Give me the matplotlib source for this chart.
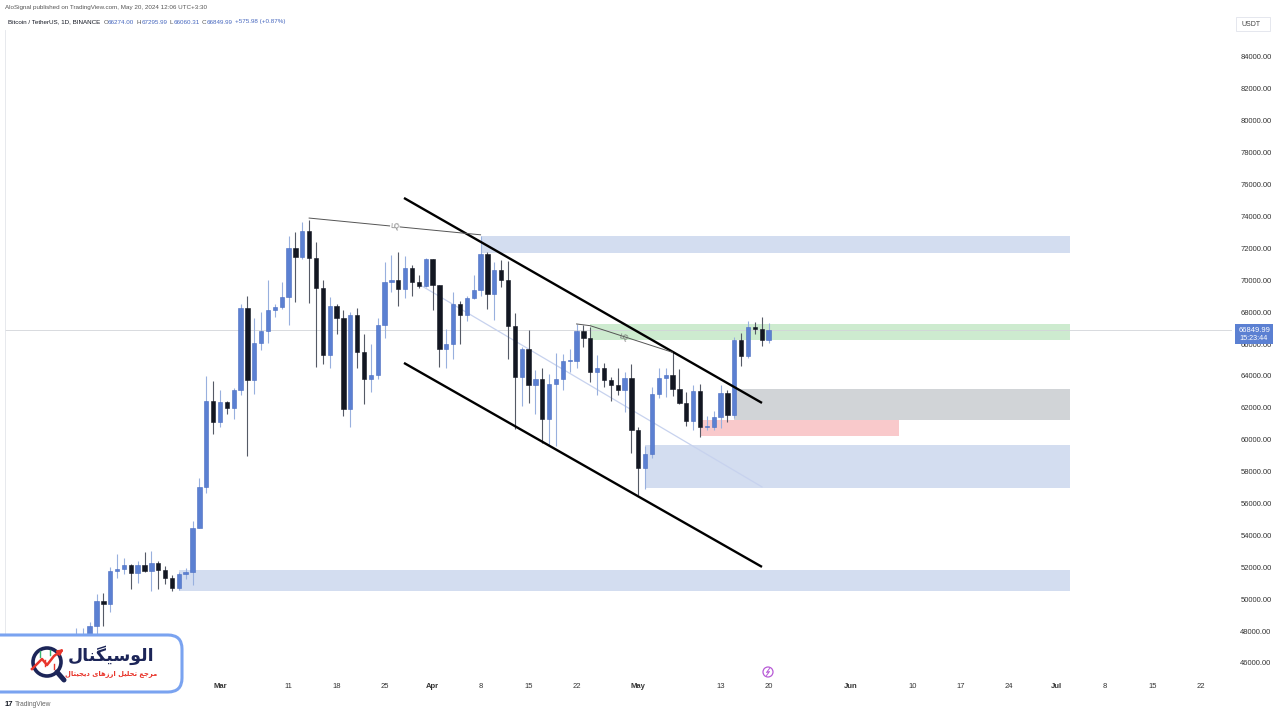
import matplotlib
matplotlib.use('Agg')
import matplotlib.pyplot as plt
import numpy as np
import pandas as pd
from matplotlib.patches import FancyBboxPatch, Circle, Rectangle

# ---------------- data (BTC/USDT daily) ----------------
dates = pd.date_range('2024-02-01', '2024-05-20', freq='D')
opens = [42580, 43082, 43200, 42994, 42583, 42658, 43084, 44339, 45293, 47132,
         47751, 48299, 49917, 49699, 51795, 51880, 52124, 51642, 52137, 51774,
         52258, 51849, 51320, 50731, 51571, 51733, 54476, 57037, 62432,
         61130, 62387, 61987, 63113, 68245, 63724, 66074, 66823, 68124, 68313,
         68955, 72000, 71470, 73072, 71388, 69499, 65300, 68393, 67609, 61937,
         67840, 65501, 63796, 64037, 67211, 69880, 69987, 69455, 70744, 69892, 69645,
         71333, 69702, 65709, 66000, 68500, 67838, 68896, 69360, 71620, 69146,
         70631, 70006, 67116, 63924, 65661, 63419, 63793, 61277, 63470, 63818,
         64940, 64941, 66837, 66407, 64276, 64481, 63755, 63419, 63113, 63841,
         60636, 58254, 59123, 62889, 63891, 64031, 63161, 62334, 61187, 63049,
         60792, 60793, 61448, 62901, 61553, 66256, 65231, 67051, 66940, 66274]
highs = [43290, 43495, 43380, 43120, 43535, 43399, 44389, 45600, 48200, 48170,
         48592, 50334, 50368, 52043, 52820, 52575, 52200, 52400, 52985, 53000,
         52380, 52065, 51548, 51684, 51950, 54910, 57588, 64000, 63676,
         63114, 62434, 63230, 68499, 69000, 67637, 67986, 69985, 68542, 69900,
         72800, 73000, 73650, 73777, 72400, 70037, 68920, 68500, 68106, 68030,
         68240, 66650, 65999, 67622, 71150, 71561, 71769, 71552, 70987, 70324, 71366,
         71342, 69710, 66914, 69292, 68725, 69020, 70326, 72797, 71758, 71172,
         71256, 71227, 67931, 65840, 66867, 64365, 64475, 64125, 65450, 65389,
         65700, 67233, 67208, 67075, 65297, 64797, 63923, 64499, 64228, 64734,
         60780, 59602, 63320, 64494, 64500, 65494, 64422, 62985, 63419, 63469,
         61490, 61818, 63450, 63118, 66447, 66697, 67451, 67400, 67700, 67296]
lows = [41884, 42541, 42880, 42222, 42259, 42574, 42788, 44331, 45242, 46800,
        47557, 47710, 48300, 49225, 51315, 51559, 50625, 51000, 51682, 50521,
        50625, 50936, 50500, 50590, 51280, 50901, 54450, 56690, 60364,
        60777, 61600, 61321, 62787, 59005, 62848, 65657, 66084, 67700, 68186,
        67194, 68620, 71330, 68555, 64555, 64770, 64525, 66600, 61500, 60775,
        64529, 62261, 63000, 63825, 66385, 69280, 68359, 68903, 69000, 69528, 69562,
        68110, 64550, 64493, 65064, 66011, 67447, 68824, 69040, 68210, 67518,
        69571, 65086, 60660, 62134, 62274, 61600, 59768, 59600, 59600, 63090,
        64237, 64500, 65800, 63589, 62794, 63300, 62424, 62793, 61765, 59191,
        56552, 56937, 58848, 62599, 62700, 62746, 62261, 60888, 60632, 60187,
        60610, 60632, 60749, 61142, 61356, 64613, 65106, 66600, 65857, 66060]
closes = opens[1:] + [66849.99]

# zones
zone_starts = ['2024-04-08', '2024-04-24', '2024-05-15', '2024-05-10', '2024-05-02', '2024-02-24']
zone_ends = ['2024-07-03', '2024-07-03', '2024-07-03', '2024-06-08', '2024-07-03', '2024-07-03']
zone_lows = [71712, 66257, 61240, 60238, 56978, 50517]
zone_highs = [72777, 67260, 63170, 61241, 59674, 51834]
zone_colors = ['#d3ddf0', '#cdebcf', '#d1d4d7', '#f9c9cb', '#d3ddf0', '#d3ddf0']

# trend / channel lines
chan_up_t = ['2024-03-27 20:00', '2024-05-19 01:00']
chan_up_p = [75160, 62307]
chan_lo_t = ['2024-03-27 20:00', '2024-05-19 01:00']
chan_lo_p = [64815, 52025]
lq1_t = ['2024-03-14', '2024-04-08']
lq1_p = [73900, 72850]
lq2_t = ['2024-04-22', '2024-04-24', '2024-05-06']
lq2_p = [67260, 67150, 65480]
faint_t = ['2024-03-30 05:00', '2024-05-19 01:00']
faint_p = [69700, 57041]
last_price = 66849.99

xtick_dates = ['2024-03-01', '2024-03-11', '2024-03-18', '2024-03-25', '2024-04-01', '2024-04-08',
               '2024-04-15', '2024-04-22', '2024-05-01', '2024-05-13', '2024-05-20', '2024-06-01',
               '2024-06-10', '2024-06-17', '2024-06-24', '2024-07-01', '2024-07-08', '2024-07-15',
               '2024-07-22']
xtick_labels = ['Mar', '11', '18', '25', 'Apr', '8', '15', '22', 'May', '13', '20', 'Jun',
                '10', '17', '24', 'Jul', '8', '15', '22']
ytick_values = list(range(46000, 84001, 2000))

BASE = pd.Timestamp('2024-03-01')


def day(s):
    return (pd.Timestamp(s) - BASE) / pd.Timedelta(days=1)


LAT = 'Liberation Sans'

fig = plt.figure(figsize=(12.8, 7.2), dpi=100)
fig.patch.set_facecolor('white')
ax = fig.add_axes([5 / 1280, 40 / 720, 1227 / 1280, 650 / 720])
ax.set_facecolor('white')

x = np.array([day(d) for d in dates])
o = np.array(opens, float)
h = np.array(highs, float)
l = np.array(lows, float)
c = np.array(closes, float)
up = c >= o

UP_BODY = '#5b80d2'
UP_EDGE = '#4a6cc0'
UP_WICK = '#98b0de'
DN_BODY = '#131722'
DN_WICK = '#555a66'

# zones
for s, e, lo_, hi_, col in zip(zone_starts, zone_ends, zone_lows, zone_highs, zone_colors):
    ax.fill_between([day(s), day(e)], lo_, hi_, color=col, lw=0, zorder=1)

# price line
ax.axhline(last_price, color='#d2d4d9', lw=0.6, zorder=1.5)

# faint line
ax.plot([day(t) for t in faint_t], faint_p, color='#c7d2ee', lw=0.9, zorder=2)

# candles
ax.vlines(x[up], l[up], h[up], color=UP_WICK, lw=0.8, zorder=3)
ax.vlines(x[~up], l[~up], h[~up], color=DN_WICK, lw=0.8, zorder=3)
body_lo = np.minimum(o, c)
body_h = np.maximum(np.abs(c - o), 45)
ax.bar(x[up], body_h[up], bottom=body_lo[up], width=0.64, color=UP_BODY,
       edgecolor=UP_EDGE, linewidth=0.4, zorder=4)
ax.bar(x[~up], body_h[~up], bottom=body_lo[~up], width=0.64, color=DN_BODY,
       edgecolor=DN_BODY, linewidth=0.4, zorder=4)

# channel lines
ax.plot([day(t) for t in chan_up_t], chan_up_p, color='black', lw=1.7, zorder=5,
        solid_capstyle='butt')
ax.plot([day(t) for t in chan_lo_t], chan_lo_p, color='black', lw=1.7, zorder=5,
        solid_capstyle='butt')

# LQ lines
ax.plot([day(t) for t in lq1_t], lq1_p, color='#555555', lw=0.7, zorder=5)
ax.plot([day(t) for t in lq2_t], lq2_p, color='#555555', lw=0.7, zorder=5)
ax.text(25.5, 73330, 'LQ', fontsize=4.8, color='#666666', family=LAT, ha='center', va='center',
        rotation=-4, zorder=6, bbox=dict(facecolor='white', edgecolor='none', pad=0.3))
ax.text(58.9, 66400, 'LQ', fontsize=4.8, color='#666666', family=LAT, ha='center', va='center',
        rotation=-15, zorder=6)

# axes limits / ticks
ax.set_xlim(-31.35, 147.58)
ax.set_ylim(44933, 85693)
ax.set_xticks([day(d) for d in xtick_dates])
ax.set_xticklabels(xtick_labels)
for lbl in ax.get_xticklabels():
    lbl.set_family(LAT)
    lbl.set_fontsize(5.5)
    lbl.set_color('#333333')
    if lbl.get_text() in ('Mar', 'Apr', 'May', 'Jun', 'Jul'):
        lbl.set_fontweight('bold')
ax.tick_params(axis='x', length=0, pad=2.5)
ax.yaxis.tick_right()
ax.set_yticks(ytick_values)
ax.set_yticklabels([f'{v:.2f}' for v in ytick_values])
for lbl in ax.get_yticklabels():
    lbl.set_family(LAT)
    lbl.set_fontsize(5.5)
    lbl.set_color('#333333')
ax.tick_params(axis='y', length=0, pad=6)
for sp in ['top', 'right', 'bottom']:
    ax.spines[sp].set_visible(False)
ax.spines['left'].set_color('#e3e5ea')
ax.spines['left'].set_linewidth(0.6)

# ---------------- overlay (pixel coordinates) ----------------
ov = fig.add_axes([0, 0, 1, 1], zorder=10)
ov.set_xlim(0, 1280)
ov.set_ylim(720, 0)
ov.axis('off')
ov.patch.set_alpha(0)

renderer = fig.canvas.get_renderer()

ov.text(5, 8, 'AloSignal published on TradingView.com, May 20, 2024 12:06 UTC+3:30',
        fontsize=4.5, color='#555555', family=LAT, va='center', ha='left')

BLUE_T = '#4566be'
pieces = [('Bitcoin / TetherUS, 1D, BINANCE', '#131722', 0), ('O', '#555555', 3),
          ('66274.00', BLUE_T, 0), ('H', '#555555', 2.5), ('67295.99', BLUE_T, 0),
          ('L', '#555555', 2.5), ('66060.31', BLUE_T, 0), ('C', '#555555', 2.5),
          ('66849.99', BLUE_T, 0), ('+575.98 (+0.87%)', BLUE_T, 2.5)]
xp = 8
for txt, col, gap in pieces:
    xp += gap
    t = ov.text(xp, 22, txt, fontsize=4.5, color=col, family=LAT, va='center', ha='left')
    bb = t.get_window_extent(renderer=renderer)
    xp += bb.width

# USDT box
ov.add_patch(Rectangle((1236, 17), 34, 14, facecolor='white', edgecolor='#e0e3eb', lw=0.6))
ov.text(1241, 24, 'USDT', fontsize=5, color='#444444', family=LAT, va='center', ha='left')

# last price label
ov.add_patch(Rectangle((1235, 324), 38, 20, facecolor='#5b80d2', edgecolor='none'))
ov.text(1239, 330, '66849.99', fontsize=5.4, color='white', family=LAT, va='center', ha='left')
ov.text(1239, 339, '15:23:44', fontsize=5.2, color='white', family=LAT, va='center', ha='left')

# purple icon near x axis
ov.add_patch(Circle((768, 672), 5, facecolor='white', edgecolor='#b75ad6', lw=0.9))
ov.plot([769.5, 766.5, 769.5, 766.5], [668.5, 672.5, 671.5, 675.5], color='#b75ad6', lw=0.7)

# TradingView logo
ov.text(5, 704, '17', fontsize=5.5, color='#131722', family=LAT, fontweight='bold',
        va='center', ha='left')
ov.text(15, 704, 'TradingView', fontsize=4.8, color='#666666', family=LAT, va='center', ha='left')

# brand logo box
ov.add_patch(FancyBboxPatch((-30, 635), 212, 57, boxstyle='round,pad=0,rounding_size=14',
                            facecolor='white', edgecolor='#7aa3f0', lw=2.2, zorder=20))
ov.add_patch(Circle((47, 662), 14, facecolor='white', edgecolor='#1c2558', lw=2.6, zorder=21))
ov.plot([57, 64], [672, 680], color='#1c2558', lw=3.6, solid_capstyle='round', zorder=21)
for xx, y0, y1, col in [(40, 651, 657, '#3cb371'), (45, 660, 666, '#e8352b'),
                        (50, 650, 655, '#3cb371'), (54, 664, 669, '#e8352b')]:
    ov.plot([xx, xx], [y0, y1], color=col, lw=1.0, zorder=21)
ov.plot([32, 42, 47, 54, 61], [669, 659, 665, 656, 651], color='#e8352b', lw=1.8,
        solid_joinstyle='round', zorder=22)
ov.annotate('', xy=(66, 647.5), xytext=(59, 652.5),
            arrowprops=dict(arrowstyle='-|>', color='#e8352b', lw=1.5, mutation_scale=8),
            zorder=22)

title_fa = ''.join(chr(cc) for cc in [0xFEDD, 0xFE8E, 0xFEE8, 0xFB95, 0xFEF4, 0xFEB3,
                                         0xFEEE, 0xFEDF, 0xFE8D])
w4 = ''.join(chr(cc) for cc in [0xFEDD, 0xFE8E, 0xFE98, 0xFEF4, 0xFEA0, 0xFEF3, 0xFEA9])
w3 = ''.join(chr(cc) for cc in [0xFBFC, 0xFE8E, 0xFEEB, 0xFEAF, 0xFEAD, 0xFE8D])
w2 = ''.join(chr(cc) for cc in [0xFEDE, 0xFEF4, 0xFEE0, 0xFEA4, 0xFE97])
w1 = ''.join(chr(cc) for cc in [0xFECA, 0xFE9F, 0xFEAE, 0xFEE3])
sub_fa = ' '.join([w4, w3, w2, w1])
ov.text(111, 655, title_fa, fontsize=12.5, color='#1c2558', family=['DejaVu Sans'],
        fontweight='bold', ha='center', va='center', zorder=23)
ov.text(111, 674, sub_fa, fontsize=4.9, color='#e8352b', family=['DejaVu Sans'],
        fontweight='bold', ha='center', va='center', zorder=23)

fig.savefig('out.png', dpi=100, facecolor='white')
